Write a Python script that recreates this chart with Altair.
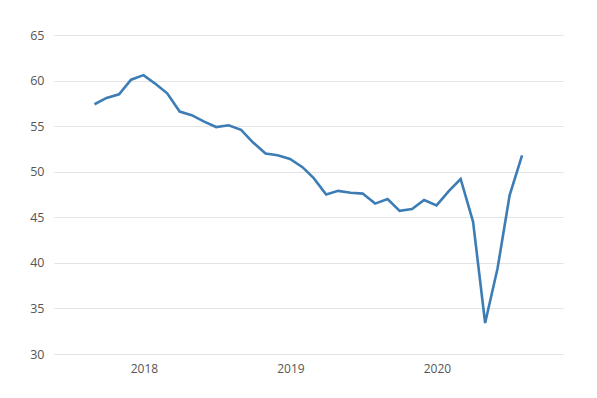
import altair as alt
import pandas as pd

months = ["2017-08", "2017-09", "2017-10", "2017-11", "2017-12",
          "2018-01", "2018-02", "2018-03", "2018-04", "2018-05", "2018-06",
          "2018-07", "2018-08", "2018-09", "2018-10", "2018-11", "2018-12",
          "2019-01", "2019-02", "2019-03", "2019-04", "2019-05", "2019-06",
          "2019-07", "2019-08", "2019-09", "2019-10", "2019-11", "2019-12",
          "2020-01", "2020-02", "2020-03", "2020-04", "2020-05", "2020-06",
          "2020-07"]
values = [57.4, 58.1, 58.5, 60.1, 60.6,
          59.6, 58.6, 56.6, 56.2, 55.5, 54.9,
          55.1, 54.6, 53.2, 52.0, 51.8, 51.4,
          50.5, 49.3, 47.5, 47.9, 47.7, 47.6,
          46.5, 47.0, 45.7, 45.9, 46.9, 46.3,
          47.9, 49.2, 44.5, 33.4, 39.4, 47.4,
          51.8]

# each monthly value is plotted at the end of its month
dates = [(pd.Period(m, "M").end_time.normalize()).strftime("%Y-%m-%d") for m in months]
df = pd.DataFrame({"date": dates, "value": values})

font = "Open Sans"

chart = alt.Chart(df).mark_line(color="#3d7db6", strokeWidth=2.6).encode(
    x=alt.X("date:T",
            scale=alt.Scale(domain=["2017-05-22", "2020-11-10"]),
            axis=alt.Axis(title=None, format="%Y", tickCount={"interval": "year", "step": 1},
                          grid=False, domain=False, ticks=False, labelPadding=9,
                          labelFontSize=12, labelColor="#555555", labelFont=font)),
    y=alt.Y("value:Q",
            scale=alt.Scale(domain=[30, 65], nice=False, zero=False),
            axis=alt.Axis(title=None, values=[30, 35, 40, 45, 50, 55, 60, 65],
                          domain=False, ticks=False, labelPadding=10,
                          gridColor="#e3e3e3", gridWidth=1,
                          labelFontSize=12.5, labelColor="#555555", labelFont=font)),
).properties(
    width=509, height=319,
    autosize=alt.AutoSizeParams(type="none"),
    padding={"left": 46, "top": 27, "right": 20, "bottom": 30},
).configure_view(stroke=None)

chart.save("out.html", embed_options={"renderer": "svg", "actions": False})
